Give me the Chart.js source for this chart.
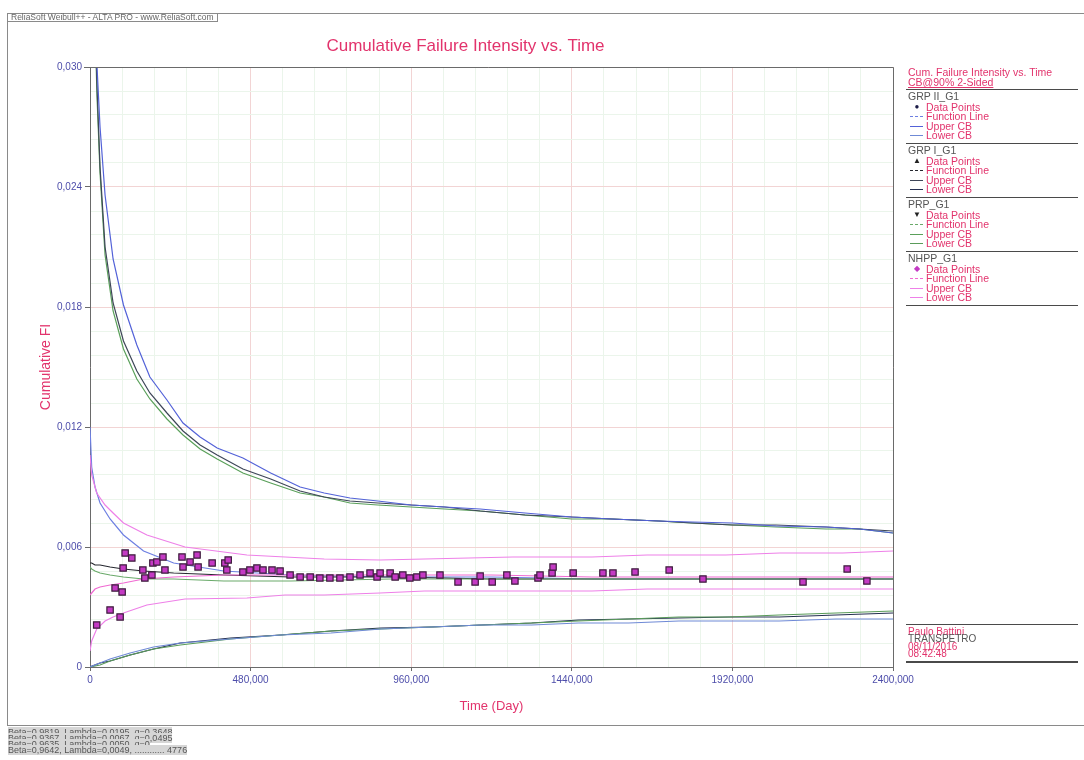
<!DOCTYPE html>
<html>
<head>
<meta charset="utf-8">
<script src="https://cdn.jsdelivr.net/npm/chart.js@4.4.0/dist/chart.umd.min.js"></script>
<style>
  body { margin: 0; background: #fff; font-family: "Liberation Sans", Arial, sans-serif; }
  #wrap { position: relative; width: 1084px; height: 760px; overflow: hidden; background: #fff; }
  #chart { position: absolute; left: 0; top: 0; }
  .frame { position: absolute; left: 7px; top: 13px; width: 1100px; height: 711px; border: 1px solid #8a8a8a; pointer-events: none; }
  .appbar { position: absolute; left: 8px; top: 13px; height: 8px; padding: 0 3px; font-size: 8.5px; line-height: 8px; color: #666; border-bottom: 1px solid #8a8a8a; border-right: 1px solid #8a8a8a; white-space: nowrap; }
  .txt { position: absolute; white-space: nowrap; font-size: 10.5px; line-height: 10px; }
  .red { color: #e2336c; }
  .grey { color: #555; }
  .sep { position: absolute; left: 906px; width: 172px; height: 0; border-top: 1px solid #4a4a4a; }
  .swatch { position: absolute; width: 13px; height: 0; }
  .mark { position: absolute; font-size: 8px; line-height: 10px; width: 10px; text-align: center; }
  .foot { position: absolute; left: 8px; font-size: 9px; line-height: 6px; color: #555; white-space: nowrap; }
  .foot span { background: #d6d6d6; }
</style>
</head>
<body>
<div id="wrap">
  <canvas id="chart" width="1084" height="760"></canvas>
  <div class="frame"></div>
  <div class="appbar">ReliaSoft Weibull++ - ALTA PRO - www.ReliaSoft.com</div>
  <div id="side"></div>
  <div class="foot" style="top:729px"><span>Beta=0,9819, Lambda=0,0195, q=0,3648</span></div>
  <div class="foot" style="top:735px"><span>Beta=0,9367, Lambda=0,0067, q=0,0495</span></div>
  <div class="foot" style="top:741px"><span>Beta=0,9635, Lambda=0,0050, q=0</span></div>
  <div class="foot" style="top:747px"><span>Beta=0,9642, Lambda=0,0049, ............ 4776</span></div>
</div>
<script>
// upper confidence bounds (cumulative FI) of the three GRP/PRP fits
const upperT = [12, 21, 30, 45, 69, 100, 140, 179, 230, 278, 329, 380, 457, 540, 628, 700, 777, 860, 960, 1060, 1166, 1300, 1440, 1560, 1700, 1800, 1920, 2050, 2200, 2300, 2400];
const grp2Upper = [0.0360, 0.0300, 0.0270, 0.0236, 0.0204, 0.0181, 0.0161, 0.0145, 0.01335, 0.0122, 0.0115, 0.01095, 0.01045, 0.0097, 0.0090, 0.0087, 0.00845, 0.0083, 0.0081, 0.0080, 0.0079, 0.0077, 0.0075, 0.0074, 0.0073, 0.00725, 0.0072, 0.00705, 0.0070, 0.0069, 0.0067];
const grp1Upper = [0.0345, 0.0290, 0.0250, 0.0210, 0.0182, 0.0163, 0.0148, 0.0137, 0.0127, 0.0118, 0.0111, 0.0106, 0.0099, 0.0094, 0.0088, 0.0085, 0.0083, 0.0082, 0.0081, 0.0080, 0.0078, 0.0076, 0.0075, 0.0074, 0.0073, 0.0072, 0.0071, 0.0071, 0.0070, 0.0069, 0.0068];
const prpUpper = [0.0340, 0.0285, 0.0247, 0.0206, 0.0178, 0.0159, 0.0144, 0.0134, 0.0124, 0.0116, 0.0109, 0.0104, 0.0097, 0.0092, 0.0087, 0.0085, 0.0082, 0.0081, 0.0080, 0.0079, 0.0078, 0.0076, 0.0074, 0.0074, 0.0073, 0.0072, 0.0071, 0.0070, 0.0069, 0.0069, 0.0067];

// fitted function lines
const funcT = [0, 5, 15, 30, 60, 100, 160, 250, 400, 600, 900, 1200, 1500, 1800, 2100, 2400];
const grp2Func = [0.0120, 0.0100, 0.0090, 0.0082, 0.0074, 0.0066, 0.0058, 0.0052, 0.0048, 0.0046, 0.0045, 0.0045, 0.0044, 0.0044, 0.0044, 0.0044];
const grp1Func = [0.0052, 0.0052, 0.0051, 0.0051, 0.0050, 0.0049, 0.0048, 0.0047, 0.0046, 0.0045, 0.0045, 0.0044, 0.0044, 0.0044, 0.0044, 0.0044];
const prpFunc = [0.0050, 0.0049, 0.0048, 0.0047, 0.0046, 0.0045, 0.0044, 0.0044, 0.0043, 0.0043, 0.0044, 0.0044, 0.0044, 0.0044, 0.0044, 0.0044];
const nhppFunc = [0.0036, 0.0037, 0.0039, 0.0040, 0.0041, 0.0042, 0.0044, 0.0045, 0.0046, 0.0046, 0.0046, 0.0046, 0.0045, 0.0045, 0.0045, 0.0045];

// NHPP confidence band
const nhppT = [0, 5, 20, 45, 69, 100, 170, 284, 469, 583, 700, 867, 1000, 1264, 1500, 1665, 1900, 2062, 2250, 2400];
const nhppUpper = [0.0106, 0.0096, 0.0087, 0.0081, 0.0077, 0.0072, 0.0066, 0.0060, 0.0056, 0.0055, 0.0054, 0.00535, 0.0054, 0.0055, 0.0055, 0.0056, 0.0056, 0.0057, 0.0057, 0.0058];
const nhppLower = [0.0008, 0.0013, 0.0019, 0.0023, 0.0025, 0.0027, 0.0031, 0.0034, 0.00345, 0.0036, 0.0036, 0.0037, 0.0038, 0.0038, 0.0038, 0.0039, 0.0039, 0.0039, 0.0039, 0.0039];

// lower confidence bounds of the GRP/PRP fits
const lowerT = [0, 30, 60, 120, 190, 270, 420, 570, 720, 870, 1020, 1170, 1320, 1460, 1610, 1760, 1910, 2060, 2230, 2400];
const grp2Lower = [0.0000, 0.0002, 0.0004, 0.0007, 0.0010, 0.0012, 0.0014, 0.0016, 0.0017, 0.0019, 0.0020, 0.0021, 0.0021, 0.0022, 0.0022, 0.0023, 0.0023, 0.0023, 0.0024, 0.0024];
const grp1Lower = [0.0000, 0.0002, 0.0003, 0.0006, 0.0009, 0.0012, 0.00145, 0.0016, 0.0018, 0.00195, 0.0020, 0.0021, 0.0022, 0.00235, 0.0024, 0.00245, 0.0025, 0.0025, 0.0026, 0.0027];
const prpLower = [0.0000, 0.0001, 0.0003, 0.0006, 0.0009, 0.0011, 0.0014, 0.0016, 0.0018, 0.0019, 0.0020, 0.0021, 0.0022, 0.0023, 0.0024, 0.0025, 0.0025, 0.0026, 0.0027, 0.0028];

// observed cumulative failure intensity
const pointT = [20, 60, 75, 90, 96, 99, 105, 125, 158, 164, 185, 188, 200, 218, 224, 275, 278, 299, 320, 323, 365, 403, 409, 413, 457, 478, 499, 517, 544, 568, 598, 628, 658, 687, 717, 747, 777, 807, 837, 858, 867, 897, 912, 935, 956, 977, 995, 1046, 1100, 1151, 1166, 1202, 1246, 1270, 1339, 1345, 1381, 1384, 1444, 1533, 1563, 1629, 1731, 1832, 2131, 2263, 2322];
const pointFI = [0.0021, 0.00285, 0.00395, 0.0025, 0.00375, 0.00495, 0.0057, 0.00545, 0.00485, 0.00445, 0.0046, 0.0052, 0.00525, 0.0055, 0.00485, 0.0055, 0.0050, 0.00525, 0.0056, 0.0050, 0.0052, 0.0052, 0.00485, 0.00535, 0.00475, 0.00485, 0.00495, 0.00485, 0.00485, 0.0048, 0.0046, 0.0045, 0.0045, 0.00445, 0.00445, 0.00445, 0.0045, 0.0046, 0.0047, 0.0045, 0.0047, 0.0047, 0.0045, 0.0046, 0.00445, 0.0045, 0.0046, 0.0046, 0.00425, 0.00425, 0.00455, 0.00425, 0.0046, 0.0043, 0.00445, 0.0046, 0.0047, 0.0050, 0.0047, 0.0047, 0.0047, 0.00475, 0.00485, 0.0044, 0.00425, 0.0049, 0.0043];

const xTicks = { max: 2400, major: 480, minor: 96 };
const yTicks = { max: 0.030, major: 0.006, minor: 0.0012 };

const colors = {
  grp2Upper: '#5362d8', grp2Func: '#6d7fe2', grp2Lower: '#6f8ad6',
  grp1Upper: '#3e4658', grp1Func: '#26282f', grp1Lower: '#263052',
  prpUpper: '#5aa05a', prpFunc: '#6aaa6a', prpLower: '#5a9c5a',
  nhppFunc: '#f06ad2', nhppBand: '#ee80e8',
  pointFill: '#c43ac4', pointEdge: '#3c1c3c',
  title: '#e2336c', tick: '#4d4daa',
  gridMajor: '#f2d4d4', gridMinor: '#ebf5eb', axis: '#6a6a6a'
};

Chart.defaults.font.family = '"Liberation Sans", Arial, sans-serif';

function pairs(xs, ys) {
  return xs.map((x, i) => ({ x: x, y: ys[i] }));
}

function curve(label, xs, ys, color, dash) {
  return {
    label: label,
    data: pairs(xs, ys),
    showLine: true,
    borderColor: color,
    borderWidth: 1.2,
    borderDash: dash || [],
    pointRadius: 0,
    tension: 0,
    fill: false
  };
}

const isMajor = (v, step) => Math.abs(v / step - Math.round(v / step)) < 1e-6;
const comma = (v) => (v === 0 ? '0' : v.toFixed(3).replace('.', ','));

// closes the plot box on the top and right side
const plotFrame = {
  id: 'plotFrame',
  afterDatasetsDraw(chart) {
    const { ctx, chartArea: a } = chart;
    ctx.save();
    ctx.strokeStyle = colors.axis;
    ctx.lineWidth = 1;
    ctx.beginPath();
    ctx.moveTo(a.left - 6, Math.round(a.top) + 0.5);
    ctx.lineTo(Math.round(a.right) + 0.5, Math.round(a.top) + 0.5);
    ctx.lineTo(Math.round(a.right) + 0.5, a.bottom);
    ctx.stroke();
    ctx.restore();
  }
};

new Chart(document.getElementById('chart'), {
  type: 'scatter',
  data: {
    datasets: [
      {
        label: 'NHPP_G1 Data Points',
        data: pairs(pointT, pointFI),
        pointStyle: 'rect',
        pointRadius: 4.5,
        backgroundColor: colors.pointFill,
        borderColor: colors.pointEdge,
        borderWidth: 1.2
      },
      curve('GRP II_G1 Upper CB', upperT, grp2Upper, colors.grp2Upper),
      curve('GRP I_G1 Upper CB', upperT, grp1Upper, colors.grp1Upper),
      curve('PRP_G1 Upper CB', upperT, prpUpper, colors.prpUpper),
      curve('NHPP_G1 Upper CB', nhppT, nhppUpper, colors.nhppBand),
      curve('NHPP_G1 Lower CB', nhppT, nhppLower, colors.nhppBand),
      curve('NHPP_G1 Function Line', funcT, nhppFunc, colors.nhppFunc),
      curve('PRP_G1 Function Line', funcT, prpFunc, colors.prpFunc),
      curve('GRP I_G1 Function Line', funcT, grp1Func, colors.grp1Func),
      curve('GRP II_G1 Function Line', funcT, grp2Func, colors.grp2Func),
      curve('GRP II_G1 Lower CB', lowerT, grp2Lower, colors.grp2Lower),
      curve('PRP_G1 Lower CB', lowerT, prpLower, colors.prpLower),
      curve('GRP I_G1 Lower CB', lowerT, grp1Lower, colors.grp1Lower)
    ]
  },
  options: {
    responsive: false,
    animation: false,
    layout: { padding: { left: 38, right: 191, top: 0, bottom: 0 } },
    plugins: {
      legend: { display: false },
      tooltip: { enabled: false },
      title: {
        display: true,
        text: 'Cumulative Failure Intensity vs. Time',
        color: colors.title,
        font: { size: 17, weight: 'normal' },
        padding: { top: 36, bottom: 10.6 }
      }
    },
    scales: {
      x: {
        type: 'linear',
        min: 0,
        max: xTicks.max,
        afterFit: (s) => { s.height = 93; },
        ticks: {
          stepSize: xTicks.minor,
          autoSkip: false,
          maxRotation: 0,
          color: colors.tick,
          font: { size: 10 },
          padding: 3,
          callback: (v) => (isMajor(v, xTicks.major) ? comma(v) : '')
        },
        grid: {
          color: (c) => (isMajor(c.tick.value, xTicks.major) ? colors.gridMajor : colors.gridMinor),
          tickColor: (c) => (isMajor(c.tick.value, xTicks.major) ? colors.axis : 'rgba(0,0,0,0)'),
          tickLength: 4
        },
        border: { color: colors.axis },
        title: {
          display: true,
          text: 'Time (Day)',
          color: colors.title,
          font: { size: 13 },
          padding: { top: 0, bottom: 46 }
        }
      },
      y: {
        type: 'linear',
        min: 0,
        max: yTicks.max,
        afterFit: (s) => { s.width = 52; },
        ticks: {
          stepSize: yTicks.minor,
          autoSkip: false,
          color: colors.tick,
          font: { size: 10 },
          padding: 3,
          callback: (v) => (isMajor(v, yTicks.major) ? comma(v) : '')
        },
        grid: {
          color: (c) => (isMajor(c.tick.value, yTicks.major) ? colors.gridMajor : colors.gridMinor),
          tickColor: (c) => (isMajor(c.tick.value, yTicks.major) ? colors.axis : 'rgba(0,0,0,0)'),
          tickLength: 5
        },
        border: { color: colors.axis },
        title: {
          display: true,
          text: 'Cumulative FI',
          color: colors.title,
          font: { size: 14 },
          padding: { top: 0, bottom: 0 }
        }
      }
    }
  },
  plugins: [plotFrame]
});

// side panel: legend groups and the user/date stamp
const side = document.getElementById('side');

function addText(text, x, cy, cls, extra) {
  const d = document.createElement('div');
  d.className = 'txt ' + cls;
  d.textContent = text;
  d.style.left = x + 'px';
  d.style.top = (cy - 5) + 'px';
  if (extra) Object.assign(d.style, extra);
  side.appendChild(d);
  return d;
}

function addSep(y, w) {
  const d = document.createElement('div');
  d.className = 'sep';
  d.style.top = y + 'px';
  if (w) d.style.borderTopWidth = w + 'px';
  side.appendChild(d);
}

function addSwatch(y, color, dashed) {
  const d = document.createElement('div');
  d.className = 'swatch';
  d.style.left = '910px';
  d.style.top = y + 'px';
  d.style.borderTop = '1.5px ' + (dashed ? 'dashed ' : 'solid ') + color;
  side.appendChild(d);
}

function addMark(ch, y, color) {
  const d = document.createElement('div');
  d.className = 'mark';
  d.textContent = ch;
  d.style.left = '912px';
  d.style.top = (y - 5) + 'px';
  d.style.color = color;
  side.appendChild(d);
}

addText('Cum. Failure Intensity vs. Time', 908, 72, 'red');
addText('CB@90% 2-Sided', 908, 82, 'red', { textDecoration: 'underline' });
addSep(89, 1.5);

const legendGroups = [
  { name: 'GRP II_G1', mark: '\u25CF', markColor: '#1c1c48', func: colors.grp2Func, upper: colors.grp2Upper, lower: colors.grp2Lower },
  { name: 'GRP I_G1', mark: '\u25B2', markColor: '#222', func: colors.grp1Func, upper: colors.grp1Upper, lower: colors.grp1Lower },
  { name: 'PRP_G1', mark: '\u25BC', markColor: '#222', func: colors.prpFunc, upper: colors.prpUpper, lower: colors.prpLower },
  { name: 'NHPP_G1', mark: '\u25C6', markColor: colors.pointFill, func: colors.nhppFunc, upper: colors.nhppBand, lower: colors.nhppBand }
];
const legendItems = ['Data Points', 'Function Line', 'Upper CB', 'Lower CB'];

legendGroups.forEach((g, i) => {
  const top = 89 + i * 54;
  addText(g.name, 908, top + 7, 'grey');
  const rows = [top + 17.5, top + 27, top + 36.5, top + 46];
  rows.forEach((cy, k) => addText(legendItems[k], 926, cy, 'red'));
  addMark(g.mark, rows[0], g.markColor);
  addSwatch(rows[1], g.func, true);
  addSwatch(rows[2], g.upper, false);
  addSwatch(rows[3], g.lower, false);
  addSep(top + 54, 1.5);
});

addSep(624, 1.5);
addText('Paulo Battini', 908, 631.5, 'red', { fontSize: '10px', lineHeight: '10px' });
addText('TRANSPETRO', 908, 639, 'grey', { fontSize: '10px', lineHeight: '10px' });
addText('08/11/2016', 908, 646.5, 'red', { fontSize: '10px', lineHeight: '10px' });
addText('08:42:48', 908, 654, 'red', { fontSize: '10px', lineHeight: '10px' });
addSep(661, 2);
</script>
</body>
</html>
